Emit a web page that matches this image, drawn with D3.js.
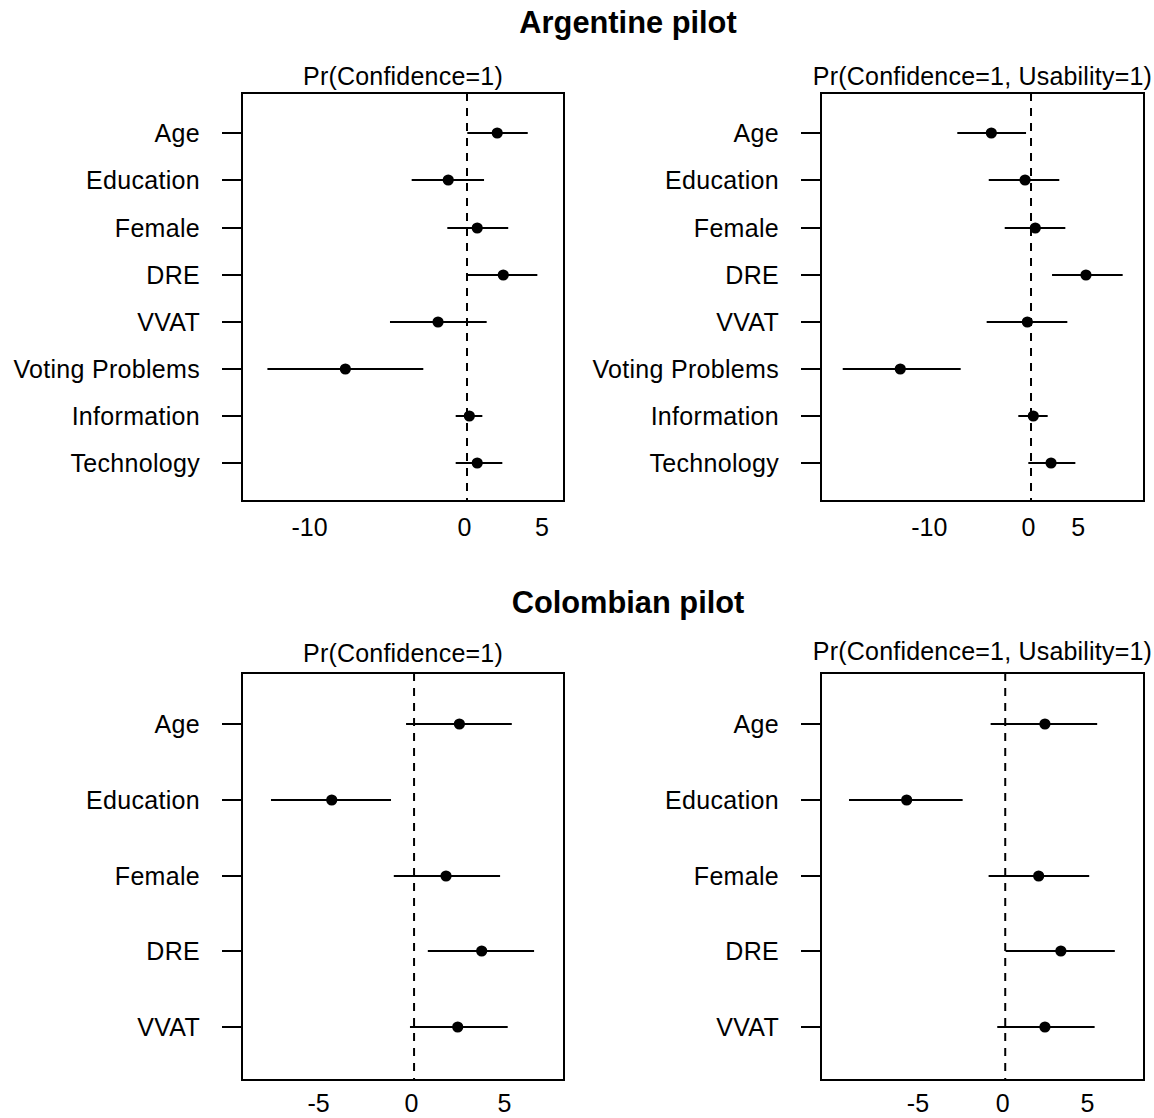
<!DOCTYPE html>
<html><head><meta charset="utf-8">
<script src="https://cdn.jsdelivr.net/npm/d3@7"></script>
<style>
body{margin:0;background:#fff}
text{font-family:"Liberation Sans",Arial,Helvetica,sans-serif;fill:#000}
</style>
</head><body>
<svg id="c" width="1154" height="1118"></svg>
<script>
// ---------- data ----------
const argVars = ["Age","Education","Female","DRE","VVAT","Voting Problems","Information","Technology"];
const colVars = ["Age","Education","Female","DRE","VVAT"];

const argConfEst = [1.95,-1.21,0.66,2.34,-1.87,-7.85,0.15,0.66];
const argConfLo  = [0.02,-3.57,-1.27,0.02,-4.97,-12.88,-0.73,-0.73];
const argConfHi  = [3.92,1.10,2.66,4.54,1.27,-2.82,0.99,2.28];

const argBothEst = [-4.00,-0.60,0.43,5.54,-0.37,-13.18,0.23,2.02];
const argBothLo  = [-7.43,-4.26,-2.65,2.12,-4.47,-18.98,-1.28,-0.27];
const argBothHi  = [-0.50,2.85,3.46,9.24,3.66,-7.09,1.68,4.47];

const colConfEst = [2.44,-4.43,1.72,3.64,2.35];
const colConfLo  = [-0.43,-7.70,-1.09,0.74,-0.22];
const colConfHi  = [5.26,-1.24,4.63,6.46,5.04];

const colBothEst = [2.34,-5.81,1.97,3.28,2.34];
const colBothLo  = [-0.86,-9.21,-0.98,0.02,-0.47];
const colBothHi  = [5.42,-2.51,4.95,6.46,5.27];

const argTicks = [-10,0,5];
const colTicks = [-5,0,5];

const argConfXlim = [-14.52,6.26];
const argBothXlim = [-21.17,11.39];
const colConfXlim = [-9.26,8.07];
const colBothXlim = [-10.86,8.18];

const mainTitles = ["Argentine pilot","Colombian pilot"];
const panelTitles = ["Pr(Confidence=1)","Pr(Confidence=1, Usability=1)"];

// ---------- drawing ----------
const svg = d3.select("#c");
const FS = 25;

function panel(o){
  const g = svg.append("g");
  const x = d3.scaleLinear().domain(o.xlim).range([o.x0,o.x1]);
  const y = d3.scalePoint().domain(o.vars).range([o.r0,o.r1]);
  const rows = o.vars.map((v,i)=>({v,est:o.est[i],lo:o.lo[i],hi:o.hi[i]}));

  // dashed zero line
  g.append("line")
    .attr("x1",x(0)).attr("x2",x(0)).attr("y1",o.y0).attr("y2",o.y1)
    .attr("stroke","#000").attr("stroke-width",2).attr("stroke-dasharray","8,7");

  // intervals
  g.selectAll("line.ci").data(rows).join("line").attr("class","ci")
    .attr("x1",d=>x(d.lo)).attr("x2",d=>x(d.hi))
    .attr("y1",d=>Math.round(y(d.v))).attr("y2",d=>Math.round(y(d.v)))
    .attr("stroke","#000").attr("stroke-width",2);
  g.selectAll("circle").data(rows).join("circle")
    .attr("cx",d=>x(d.est)).attr("cy",d=>Math.round(y(d.v))).attr("r",5.6).attr("fill","#000");

  // box
  g.append("rect").attr("x",o.x0).attr("y",o.y0)
    .attr("width",o.x1-o.x0).attr("height",o.y1-o.y0)
    .attr("fill","none").attr("stroke","#000").attr("stroke-width",2);

  // y axis
  const ya = g.append("g").attr("transform",`translate(${o.x0},0)`)
    .call(d3.axisLeft(y).tickSize(20).tickPadding(22));
  ya.select(".domain").remove();
  ya.selectAll(".tick").attr("transform",d=>`translate(0,${Math.round(y(d))})`);
  ya.selectAll(".tick line").attr("stroke","#000").attr("stroke-width",2);
  ya.selectAll(".tick text").attr("font-size",FS).attr("dy","0.36em")
    .attr("letter-spacing","0.3px")
    .style("font-family","'Liberation Sans',Arial,sans-serif");

  // x axis (labels only)
  const xa = g.append("g").attr("transform",`translate(0,${o.y1})`)
    .call(d3.axisBottom(x).tickValues(o.ticks).tickSize(0).tickFormat(d=>String(d)));
  xa.select(".domain").remove();
  xa.selectAll(".tick line").remove();
  xa.selectAll(".tick text").attr("font-size",FS).attr("y",o.lb).attr("dy",0).attr("dx",-3)
    .style("font-family","'Liberation Sans',Arial,sans-serif");

  // panel title
  g.append("text").attr("x",(o.x0+o.x1)/2).attr("y",o.tb)
    .attr("text-anchor","middle").attr("font-size",FS).attr("letter-spacing","0.2px")
    .text(o.title);
}

panel({vars:argVars,est:argConfEst,lo:argConfLo,hi:argConfHi,xlim:argConfXlim,ticks:argTicks,
  x0:242,x1:564,y0:93,y1:501,r0:133.3,r1:463.3,title:panelTitles[0],tb:85,lb:35});
panel({vars:argVars,est:argBothEst,lo:argBothLo,hi:argBothHi,xlim:argBothXlim,ticks:argTicks,
  x0:821,x1:1144,y0:93,y1:501,r0:133.3,r1:463.3,title:panelTitles[1],tb:85,lb:35});
panel({vars:colVars,est:colConfEst,lo:colConfLo,hi:colConfHi,xlim:colConfXlim,ticks:colTicks,
  x0:242,x1:564,y0:673,y1:1080,r0:724.3,r1:1026.7,title:panelTitles[0],tb:662,lb:32});
panel({vars:colVars,est:colBothEst,lo:colBothLo,hi:colBothHi,xlim:colBothXlim,ticks:colTicks,
  x0:821,x1:1144,y0:673,y1:1080,r0:724.3,r1:1026.7,title:panelTitles[1],tb:660,lb:32});

svg.selectAll("text.main").data(mainTitles).join("text").attr("class","main")
  .attr("x",628).attr("y",(d,i)=>i===0?33:613)
  .attr("text-anchor","middle").attr("font-size",30.8).attr("font-weight","bold")
  .text(d=>d);
</script>
</body></html>
